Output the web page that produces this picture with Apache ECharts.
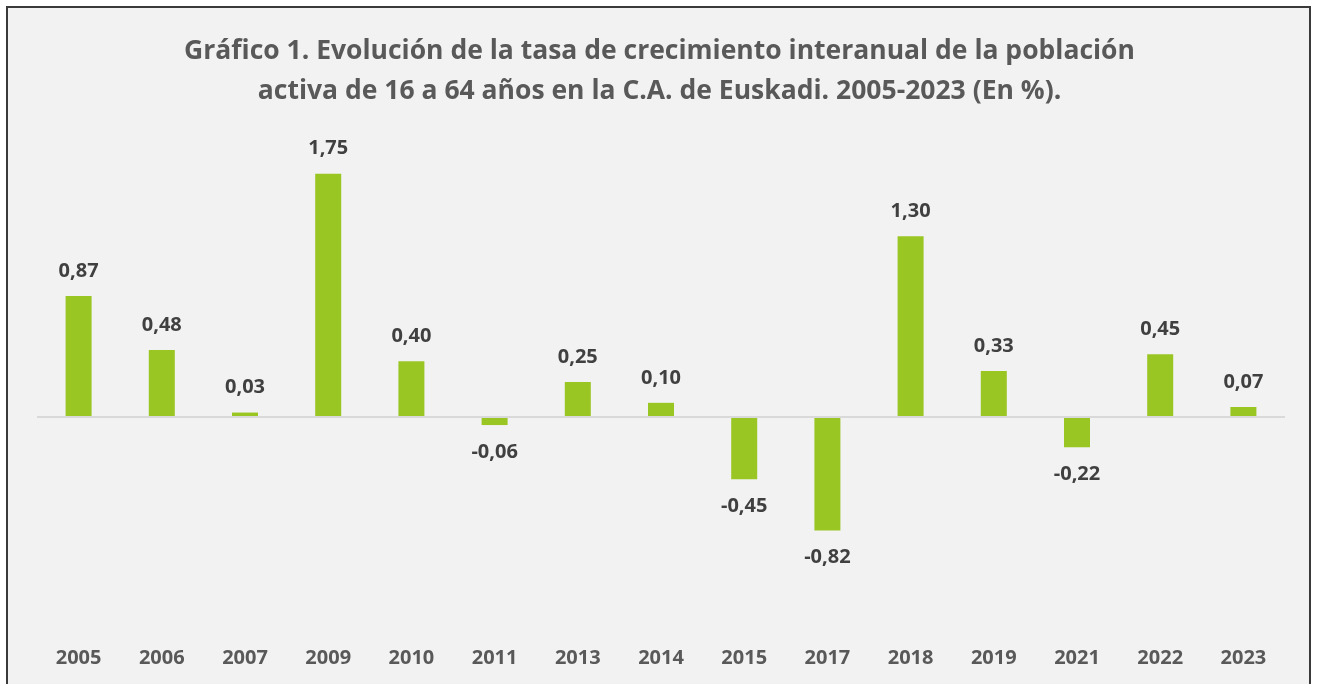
<!DOCTYPE html>
<html>
<head>
<meta charset="utf-8">
<script src="https://cdn.jsdelivr.net/npm/echarts@6/dist/echarts.min.js"></script>
<style>
  html, body {
    margin: 0;
    padding: 0;
    background: #ffffff;
    overflow: hidden;
  }
  .frame {
    position: absolute;
    left: 6px;
    top: 6px;
    width: 1305px;
    height: 720px;
    background: #f2f2f2;
    border: 2px solid #3a3a3a;
    box-sizing: border-box;
  }
  #chart {
    position: absolute;
    left: 0;
    top: 0;
    width: 1319px;
    height: 684px;
  }
</style>
</head>
<body>
<div class="frame"></div>
<div id="chart"></div>
<script>
const years = ["2005", "2006", "2007", "2009", "2010", "2011", "2013", "2014",
  "2015", "2017", "2018", "2019", "2021", "2022", "2023"];
const rates = [0.87, 0.48, 0.03, 1.75, 0.40, -0.06, 0.25, 0.10,
  -0.45, -0.82, 1.30, 0.33, -0.22, 0.45, 0.07];

const titleText = "Gráfico 1. Evolución de la tasa de crecimiento interanual de la población\nactiva de 16 a 64 años en la C.A. de Euskadi. 2005-2023 (En %).";

const fmt = (v) => v.toFixed(2).replace(".", ",");

const chart = echarts.init(document.getElementById("chart"));
chart.setOption({
  backgroundColor: "transparent",
  animation: false,
  textStyle: { fontFamily: "Open Sans" },
  title: {
    text: titleText,
    left: "center",
    top: 26,
    textStyle: {
      fontFamily: "Open Sans",
      fontSize: 26.5,
      fontWeight: "bold",
      color: "#595959",
      lineHeight: 40,
    },
  },
  grid: {
    left: 37,
    right: 34,
    top: 139,
    bottom: 59,
  },
  xAxis: {
    type: "category",
    data: years,
    axisLine: { show: false, onZero: false },
    axisTick: { show: false },
    axisLabel: {
      margin: 23,
      fontFamily: "Open Sans",
      fontSize: 20,
      fontWeight: "bold",
      color: "#595959",
    },
  },
  yAxis: {
    type: "value",
    min: -1.5,
    max: 2,
    show: false,
    splitLine: { show: false },
  },
  series: [
    {
      type: "bar",
      barWidth: 26,
      itemStyle: { color: "#99c623" },
      data: rates.map((v) => ({
        value: v,
        label: {
          position: v < 0 ? "bottom" : "top",
          distance: v < 0 ? 17 : 15,
        },
      })),
      label: {
        show: true,
        formatter: (p) => fmt(p.value),
        fontFamily: "Open Sans",
        fontSize: 20,
        fontWeight: "bold",
        color: "#404040",
      },
      markLine: {
        silent: true,
        symbol: "none",
        label: { show: false },
        lineStyle: { color: "#d9d9d9", width: 2, type: "solid" },
        data: [{ yAxis: 0 }],
      },
    },
  ],
});
</script>
</body>
</html>
